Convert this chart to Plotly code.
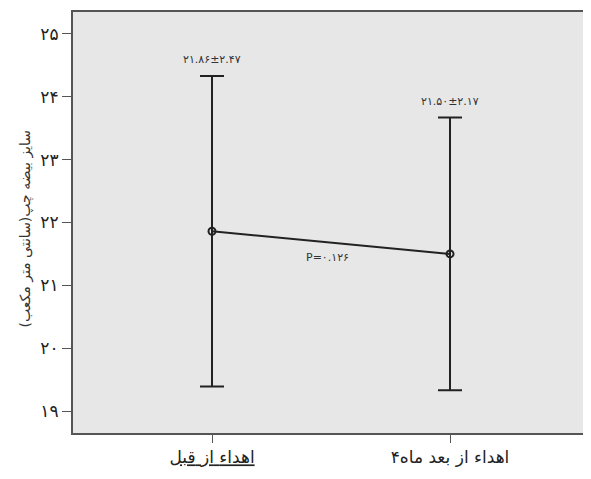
import plotly.graph_objects as go

LRM = "\u200e"
categories = ["قبل از اهداء", "۴ماه بعد از اهداء"]
means = [21.86, 21.50]
sds = [2.47, 2.17]
value_labels = ["۲۱.۸۶±۲.۴۷", "۲۱.۵۰±۲.۱۷"]
p_label = "P=۰.۱۲۶"
y_tickvals = [19, 20, 21, 22, 23, 24, 25]
y_ticktext = ["۱۹", "۲۰", "۲۱", "۲۲", "۲۳", "۲۴", "۲۵"]
y_title = "سایز بیضه چپ(سانتی متر مکعب)"


def ltr_words(s):
    # keep the left-to-right word order of the original picture
    return LRM + s.replace("۴", "۴" + LRM).replace(" ", LRM + " " + LRM) + LRM


category_labels = ["<u>" + ltr_words(categories[0]) + "</u>", ltr_words(categories[1])]

xpos = list(range(len(categories)))
FONT = "DejaVu Sans"

fig = go.Figure()
fig.add_trace(go.Scatter(
    x=xpos, y=means, mode="lines+markers",
    line=dict(color="#222222", width=2),
    marker=dict(symbol="circle-open", size=7, color="#222222", line=dict(width=2)),
    error_y=dict(type="data", array=sds, visible=True, color="#222222", thickness=2, width=12),
    showlegend=False, hoverinfo="skip",
))

for x, m, s, lab in zip(xpos, means, sds, value_labels):
    fig.add_annotation(x=x, y=m + s, text=lab, showarrow=False, yanchor="bottom", yshift=8,
                       font=dict(family=FONT, size=11, color="#333333"))

fig.add_annotation(x=sum(xpos) / len(xpos), y=sum(means) / len(means), text=p_label, showarrow=False,
                   yshift=-15, xshift=-4, font=dict(family=FONT, size=11, color="#333333"))

fig.add_annotation(xref="paper", yref="paper", x=(15 - 73) / 516, y=(433 - 228) / 423,
                   text=y_title, textangle=-90, showarrow=False,
                   font=dict(family=FONT, size=14, color="#333333"))

fig.update_layout(
    width=583, height=463,
    margin=dict(l=65, r=2, t=2, b=38),
    paper_bgcolor="white", plot_bgcolor="#e7e7e7",
    font=dict(family=FONT, color="#333333"),
)
fig.update_xaxes(
    range=[-0.584, 1.584], tickvals=xpos, ticktext=category_labels,
    showgrid=False, zeroline=False, showline=True, linecolor="#555555", linewidth=2, mirror=True,
    ticks="outside", ticklen=8, tickcolor="#555555", tickwidth=1,
    tickfont=dict(family=FONT, size=17, color="#222222"),
)
fig.update_yaxes(
    range=[18.65, 25.35], tickvals=y_tickvals, ticktext=y_ticktext,
    showgrid=False, zeroline=False, showline=True, linecolor="#555555", linewidth=2,
    ticks="outside", ticklen=9, tickcolor="#555555", tickwidth=1,
    tickfont=dict(family=FONT, size=17, color="#222222"),
)

fig.write_html("out.html")
